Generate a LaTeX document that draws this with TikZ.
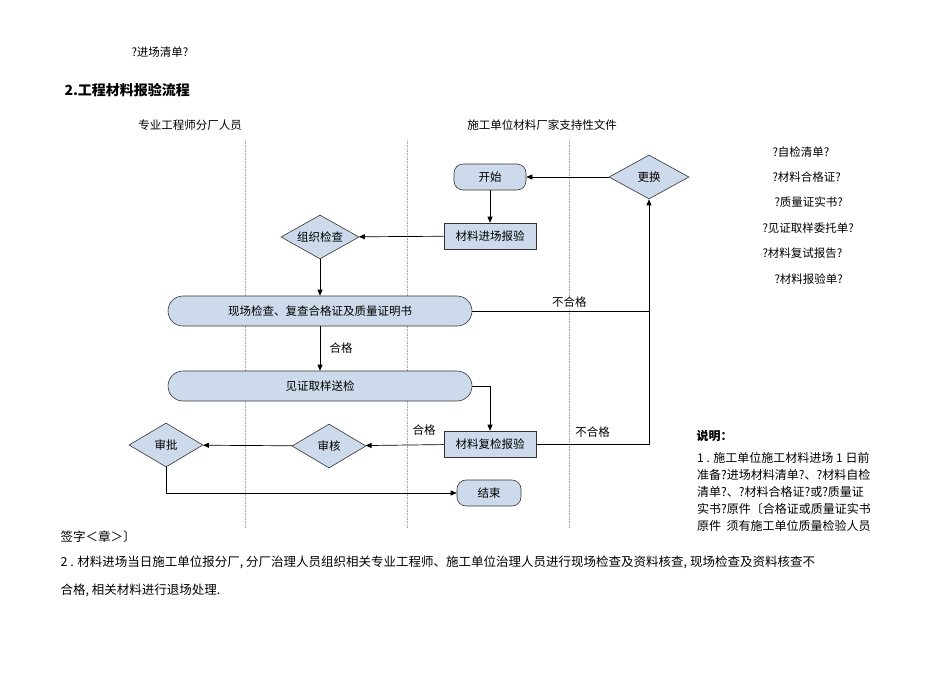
\documentclass[tikz,border=0pt]{standalone}
\usepackage{fontspec}
\setmainfont{Noto Sans CJK SC}
\usetikzlibrary{shapes.geometric,arrows.meta}
\begin{document}
\begin{tikzpicture}[x=1pt,y=-1pt,font=\fontsize{11.5}{13}\selectfont,
  fillc/.style={draw=black!80,line width=0.6pt},
  boxr/.style={fillc,fill={rgb,255:red,204;green,218;blue,236},rounded corners=9pt,minimum width=#1,minimum height=26pt},
  boxs/.style={fillc,fill={rgb,255:red,204;green,218;blue,236},minimum width=92pt,minimum height=26pt},
  dia/.style={fillc,fill={rgb,255:red,204;green,218;blue,236},diamond,aspect=1.7,minimum width=#1,minimum height=44pt,inner sep=0pt},
  stad/.style={fillc,fill={rgb,255:red,204;green,218;blue,236},rounded corners=15pt,minimum width=304pt,minimum height=30pt},
  arr/.style={-{Triangle[length=6pt,width=5pt]},line width=0.7pt},
  ln/.style={line width=0.7pt},
  lane/.style={densely dotted,gray!70,line width=0.6pt}]
\useasboundingbox (0,0) rectangle (950,672);
\foreach \x in {245,407,569} \draw[lane] (\x,140) -- (\x,528);
\node (h1) at (190,125) {专业工程师分厂人员};
\node (h2) at (542,125) {施工单位材料厂家支持性文件};
\node (start) [boxr=72pt] at (490,177) {开始};
\node (gh) [dia=80pt] at (649,177) {更换};
\node (jc) [boxs] at (490,236) {材料进场报验};
\node (zz) [dia=78pt] at (320,237) {组织检查};
\node (xc) [stad] at (320,311) {现场检查、复查合格证及质量证明书};
\node (jz) [stad] at (320,386) {见证取样送检};
\node (fj) [boxs] at (490,444) {材料复检报验};
\node (sh) [dia=74pt] at (329,446) {审核};
\node (sp) [dia=74pt] at (166,445) {审批};
\node (end) [boxr=64pt] at (489,493) {结束};
\coordinate (c1) at (649,311);
\coordinate (c2) at (649,444);
\draw[arr] (gh) -- (start);
\draw[arr] (start) -- (jc);
\draw[arr] (jc) -- (zz);
\draw[arr] (zz) -- (xc);
\draw[arr] (xc) -- node[right=6pt] {合格} (jz);
\draw[ln] (xc.east) -- node[above,pos=0.55] {不合格} (c1);
\draw[arr] (fj.east) -- node[above=3pt,pos=0.5] {不合格} (c2) -- (gh.south);
\draw[arr] (jz.east) -| (fj.north);
\draw[arr] (fj) -- node[above=6pt,pos=0.25] {合格} (sh);
\draw[arr] (sh) -- (sp);
\draw[arr] (sp.south) |- (end.west);
\node[anchor=west] (l1) at (769,152) {?自检清单?};
\node[anchor=west] (l2) at (769,177) {?材料合格证?};
\node[anchor=west] (l3) at (771,202) {?质量证实书?};
\node[anchor=west] (l4) at (759,228) {?见证取样委托单?};
\node[anchor=west] (l5) at (759,253) {?材料复试报告?};
\node[anchor=west] (l6) at (771,279) {?材料报验单?};
\node[anchor=west] (t0) at (128,52) {?进场清单?};
\node[anchor=west,font=\fontsize{14}{16}\selectfont\bfseries] (t1) at (61,90) {2.工程材料报验流程};
\node[anchor=west,font=\fontsize{12}{14}\selectfont\bfseries] (sm) at (693,436) {说明：};
\node[anchor=north west,inner sep=0pt,align=left,font=\fontsize{12}{17}\selectfont] (p1) at (697,452) {1 . 施工单位施工材料进场 1 日前\\准备?进场材料清单?、?材料自检\\清单?、?材料合格证?或?质量证\\实书?原件〔合格证或质量证实书\\原件\ \ 须有施工单位质量检验人员};
\node[anchor=west,font=\fontsize{12.5}{14}\selectfont] (s1) at (57,537) {签字＜章＞〕};
\node[anchor=west,font=\fontsize{12.5}{14}\selectfont] (s2) at (57,562) {2 . 材料进场当日施工单位报分厂, 分厂治理人员组织相关专业工程师、施工单位治理人员进行现场检查及资料核查, 现场检查及资料核查不};
\node[anchor=west,font=\fontsize{12.5}{14}\selectfont] (s3) at (57,590) {合格, 相关材料进行退场处理.};
\end{tikzpicture}
\end{document}
